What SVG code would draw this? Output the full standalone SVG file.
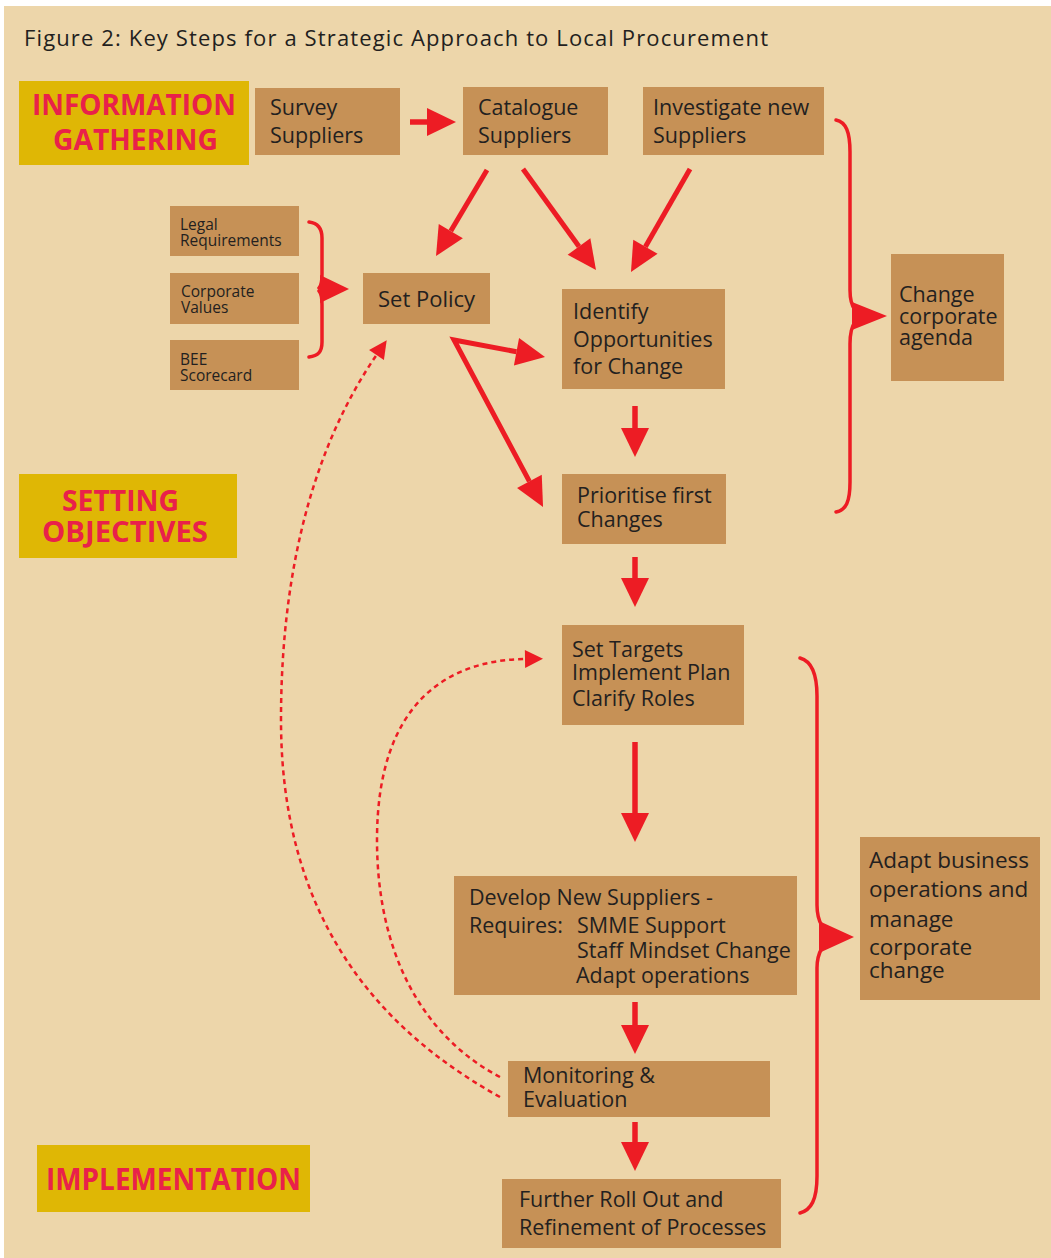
<svg xmlns="http://www.w3.org/2000/svg" width="1051" height="1258" viewBox="0 0 1051 1258">
<defs>
<style>
.bg{fill:#EDD6AA}
.box{fill:#C69156}
.lab{fill:#DFB705}
.t{font-family:"Open Sans","Noto Sans","Liberation Sans",sans-serif;font-size:21.5px;fill:#231F20}
.ts{font-family:"Open Sans","Noto Sans","Liberation Sans",sans-serif;font-size:15.5px;fill:#231F20}
.tl{font-family:"Open Sans","Noto Sans","Liberation Sans",sans-serif;font-weight:bold;fill:#E9214A}
.ar{fill:none;stroke:#ED1C24;stroke-width:5.5}
.br{fill:none;stroke:#ED1C24;stroke-width:3.5;stroke-linecap:round}
.dt{fill:none;stroke:#ED1C24;stroke-width:2.5;stroke-dasharray:5 4}
.hd{fill:#ED1C24}
</style>
<marker id="ah" markerUnits="userSpaceOnUse" markerWidth="30" markerHeight="28" refX="0" refY="14" orient="auto-start-reverse" overflow="visible">
<path d="M0,0 L29,14 L0,28 z" fill="#ED1C24"/>
</marker>
<marker id="dh" markerUnits="userSpaceOnUse" markerWidth="19" markerHeight="18" refX="0" refY="9" orient="auto" overflow="visible">
<path d="M0,0 L18,9 L0,18 z" fill="#ED1C24"/>
</marker>
</defs>
<rect x="0" y="0" width="1051" height="1258" fill="#FFFFFF"/>
<rect class="bg" x="4" y="6" width="1047" height="1252"/>
<text class="t" x="24" y="46" style="font-size:22px" textLength="744">Figure 2: Key Steps for a Strategic Approach to Local Procurement</text>

<g id="label-information">
<rect class="lab" x="19" y="81" width="230" height="84"/>
<text class="tl" x="32" y="115" style="font-size:28px" textLength="204" lengthAdjust="spacingAndGlyphs">INFORMATION</text>
<text class="tl" x="53" y="150" style="font-size:28px" textLength="165" lengthAdjust="spacingAndGlyphs">GATHERING</text>
</g>
<g id="label-setting">
<rect class="lab" x="19" y="474" width="218" height="84"/>
<text class="tl" x="62" y="511" style="font-size:29px" textLength="117" lengthAdjust="spacingAndGlyphs">SETTING</text>
<text class="tl" x="42" y="542" style="font-size:29px" textLength="166" lengthAdjust="spacingAndGlyphs">OBJECTIVES</text>
</g>
<g id="label-implementation">
<rect class="lab" x="37" y="1145" width="273" height="67"/>
<text class="tl" x="46" y="1190" style="font-size:30px" textLength="255" lengthAdjust="spacingAndGlyphs">IMPLEMENTATION</text>
</g>

<g id="survey">
<rect class="box" x="255" y="88" width="145" height="67"/>
<text class="t" x="270" y="115">Survey</text>
<text class="t" x="270" y="143">Suppliers</text>
</g>
<g id="catalogue">
<rect class="box" x="463" y="87" width="145" height="68"/>
<text class="t" x="478" y="115">Catalogue</text>
<text class="t" x="478" y="143">Suppliers</text>
</g>
<g id="investigate">
<rect class="box" x="643" y="87" width="181" height="68"/>
<text class="t" x="653" y="115">Investigate new</text>
<text class="t" x="653" y="143">Suppliers</text>
</g>
<g id="legal">
<rect class="box" x="170" y="206" width="129" height="50"/>
<text class="ts" x="180" y="230">Legal</text>
<text class="ts" x="180" y="246">Requirements</text>
</g>
<g id="corporate-values">
<rect class="box" x="170" y="273" width="129" height="51"/>
<text class="ts" x="181" y="297">Corporate</text>
<text class="ts" x="181" y="313">Values</text>
</g>
<g id="bee">
<rect class="box" x="170" y="340" width="129" height="50"/>
<text class="ts" x="180" y="365">BEE</text>
<text class="ts" x="180" y="381">Scorecard</text>
</g>
<g id="set-policy">
<rect class="box" x="363" y="273" width="127" height="51"/>
<text class="t" x="378" y="307" style="font-size:22px">Set Policy</text>
</g>
<g id="identify">
<rect class="box" x="562" y="289" width="163" height="100"/>
<text class="t" x="573" y="319">Identify</text>
<text class="t" x="573" y="347">Opportunities</text>
<text class="t" x="573" y="374">for Change</text>
</g>
<g id="change-agenda">
<rect class="box" x="891" y="254" width="113" height="127"/>
<text class="t" x="899" y="302">Change</text>
<text class="t" x="899" y="324">corporate</text>
<text class="t" x="899" y="345">agenda</text>
</g>
<g id="prioritise">
<rect class="box" x="562" y="474" width="164" height="70"/>
<text class="t" x="577" y="503">Prioritise first</text>
<text class="t" x="577" y="527">Changes</text>
</g>
<g id="set-targets">
<rect class="box" x="562" y="625" width="182" height="100"/>
<text class="t" x="572" y="657">Set Targets</text>
<text class="t" x="572" y="680">Implement Plan</text>
<text class="t" x="572" y="706">Clarify Roles</text>
</g>
<g id="develop">
<rect class="box" x="454" y="876" width="343" height="119"/>
<text class="t" x="469" y="905">Develop New Suppliers -</text>
<text class="t" x="469" y="933">Requires:</text>
<text class="t" x="577" y="933">SMME Support</text>
<text class="t" x="577" y="958">Staff Mindset Change</text>
<text class="t" x="576" y="983">Adapt operations</text>
</g>
<g id="adapt-business">
<rect class="box" x="860" y="837" width="180" height="163"/>
<text class="t" x="869" y="868" style="font-size:22.5px">Adapt business</text>
<text class="t" x="869" y="897" style="font-size:22.5px">operations and</text>
<text class="t" x="869" y="927" style="font-size:22.5px">manage</text>
<text class="t" x="869" y="955" style="font-size:22.5px">corporate</text>
<text class="t" x="869" y="978" style="font-size:22.5px">change</text>
</g>
<g id="monitoring">
<rect class="box" x="508" y="1061" width="262" height="56"/>
<text class="t" x="523" y="1083">Monitoring &amp;</text>
<text class="t" x="523" y="1107">Evaluation</text>
</g>
<g id="further">
<rect class="box" x="502" y="1179" width="279" height="69"/>
<text class="t" x="519" y="1207">Further Roll Out and</text>
<text class="t" x="519" y="1235">Refinement of Processes</text>
</g>

<g id="connectors">
<line class="ar" x1="410" y1="122" x2="427" y2="122" marker-end="url(#ah)"/>
<line class="ar" x1="487" y1="170" x2="450.8" y2="231.1" marker-end="url(#ah)" style="stroke-width:5"/>
<line class="ar" x1="523" y1="169" x2="579" y2="246.5" marker-end="url(#ah)" style="stroke-width:5"/>
<line class="ar" x1="690" y1="169" x2="645.4" y2="246.8" marker-end="url(#ah)" style="stroke-width:5"/>
<polyline class="ar" points="516.5,351.7 454,340 529.4,481.4" marker-start="url(#ah)" marker-end="url(#ah)" style="stroke-width:5;stroke-linejoin:miter"/>
<line class="ar" x1="635" y1="406" x2="635" y2="428" marker-end="url(#ah)"/>
<line class="ar" x1="635" y1="557" x2="635" y2="578" marker-end="url(#ah)"/>
<line class="ar" x1="635" y1="742" x2="635" y2="813" marker-end="url(#ah)"/>
<line class="ar" x1="635" y1="1002" x2="635" y2="1025" marker-end="url(#ah)"/>
<line class="ar" x1="635" y1="1122" x2="635" y2="1142" marker-end="url(#ah)"/>

<path class="br" d="M309,222 C318,223 322,228 322,238 L322,274 C322,282 321,286 319,288 M319,291 C321,293 322,297 322,305 L322,342 C322,352 318,356 309,357"/>
<polygon class="hd" points="320,275 349,289 320,303"/>

<path class="br" d="M836,120 C846,122 850,132 850,152 L850,290 C850,300 852,306 855,310 M855,322 C852,326 850,332 850,344 L850,482 C850,502 846,510 836,512"/>
<polygon class="hd" points="852,302 887,316 852,330"/>

<path class="br" d="M800,658 C811,661 817,672 817,696 L817,905 C817,915 819,921 822,926 M822,948 C819,953 817,959 817,968 L817,1176 C817,1200 811,1210 800,1213"/>
<polygon class="hd" points="819,921 854,937 819,953"/>

<path class="dt" d="M500,1097 C370,1025 281,910 281,720 C281,560 318,440 376.5,355" marker-end="url(#dh)"/>
<path class="dt" d="M500,1077 C420,1035 377,950 377,840 C377,700 450,660 525,659" marker-end="url(#dh)"/>
</g>
</svg>
